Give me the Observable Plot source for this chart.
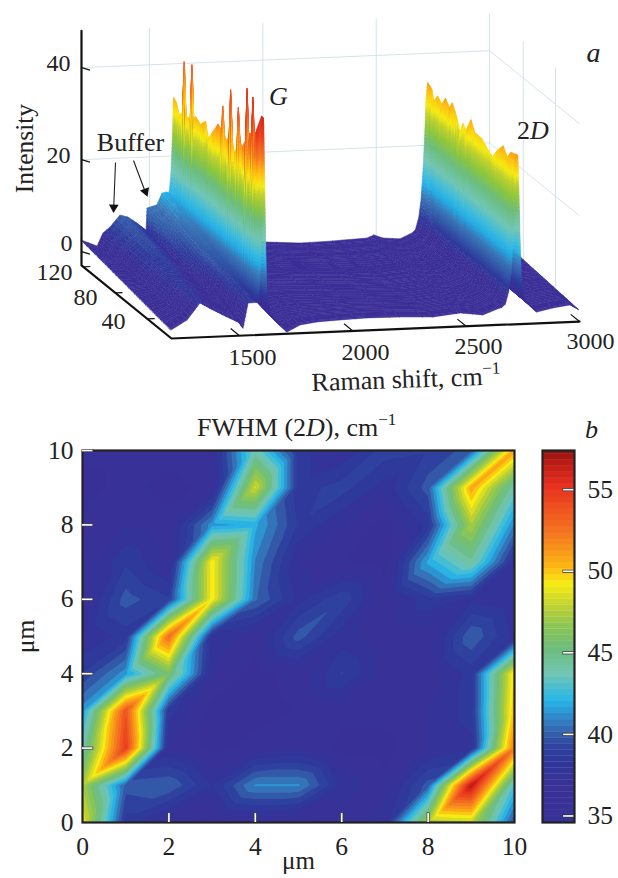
<!DOCTYPE html>
<html><head><meta charset="utf-8">
<script src="https://cdn.jsdelivr.net/npm/d3@7"></script>
<script src="https://cdn.jsdelivr.net/npm/@observablehq/plot@0.6"></script>
<style>
html,body{margin:0;padding:0;background:#fff}
#page{position:relative;width:618px;height:878px;overflow:hidden;font-family:"Liberation Serif",serif;color:#222}
#page svg{position:absolute;left:0;background:transparent}
.t{position:absolute;white-space:nowrap;line-height:1;font-size:26px}
.t sup{font-size:17px;line-height:0;vertical-align:baseline;position:relative;top:-11px}
</style></head><body><div id="page"></div>
<script>
// ---------- panel a: surface readings ----------
const frontShifts = [1200,1271,1328,1385,1447,1504,1518,1540,1606,1668,1712,1769,1844,1945,2065,2210,2356,2475,2576,2651,2686,2770,2814,2885,2960,3000];
const frontLevels = [-1.26,.77,4.35,2.7,1.06,-.37,-1.5,3.9,4,-.7,-2.74,-1.33,-.83,-.6,-.4,-.5,-.8,-.17,-.8,.57,.8,1.5,-.65,.1,.6,-.6];
const backShifts = [1200,1271,1297,1328,1372,1407,1447,1487,1491,1535,1557,1579,1650,1800,2016,2166,2311,2462,2492,2532,2607,2660,2750,3000];
const backLevels = [2.43,.98,3.76,5,7.5,7,5.6,4,8.8,9.4,11.9,12.1,4,2,.33,-.2,-.04,.28,.9,.15,-.2,.98,1.2,1.2];
const gSpectrum = [10,12.4,19.6,21.6,23.2,24.9,26.9,28.7,30.5,32.3,36.5,39.5,41.3,43.1,46.1,49.1,50.9,52.7,55.8,58.8,60.6,62.4,66.6,72.6,78.6,82.2,88.3,94.3,97.2,99.1,101,105.1,106.9,108.7,110.6,114.8,118.4,122];
const gHeight  = [44,44,39.5,37,46.6,38,38.3,36,47.5,36,33.8,35,41.8,33,31.1,34,44.3,34,32.5,33.5,39.4,34,34.6,32.2,29.8,33,31.5,32.3,31.5,42.9,31,30.7,31,42.2,31,29.7,32,32.6];
const dSpectrum = [10,11.2,18.5,23.4,28.3,35.6,41.6,48.9,55,63.5,68.4,74.5,78.2,81.8,85.5,91.5,95.2,100,104.9,109.8,114.7,117,122];
const dHeight  = [33.5,33.5,33,31.3,33,31,28.7,29.8,30.8,30.9,33,29.8,30.8,28.3,30.8,33.4,31.8,33.2,31.2,32.3,30.5,32.7,33.5];
const gCentre = 1608, dCentre = 2730;
const gOffsets = [-25,-18,-12,-8,-4,-2,0,2,5,8,11,14,18,25,30];
const gShape   = [0,.07,.25,.45,.7,.9,1,.95,.7,.45,.25,.12,.05,.01,0];
const dOffsets = [-70,-55,-40,-30,-22,-16,-12,-9,-5,-2,0,3,6,9,12,15,20,28,40,50];
const dShape   = [0,.02,.1,.22,.4,.58,.72,.87,.95,.99,1,.9,.7,.5,.33,.2,.1,.04,.01,0];
const shiftTicks = [1500,2000,2500,3000];
const spectrumTicks = [40,80,120];
const intensityTicks = [0,20,40];
const zStops  = [-3,3,5,7,9.5,12,14,17,21,24,27,29,32,35,40,45,48];
const zColors = ["#3b2e96","#3a2f96","#2f3a9c","#3358a8","#3a78b8","#25b0e6","#40bcdc","#73c6b5","#6cbd7d","#8cc63f","#c0d030","#f7ec13","#fdb813","#f57a20","#ea3d20","#d0201a","#7f0f0f"];

// ---------- panel b: FWHM on the 11 x 11 map, row by row from y = 0 ----------
const fwhmY0  = [49,38.5,37,36.5,37,36.5,37,38,47.5,48,39.5];
const fwhmY1  = [47.5,40,40.3,38.2,41.2,41.2,38,37,40,57,43];
const fwhmY2  = [44,55,37.5,36.5,37,37.5,36.5,36.5,37.5,38,52.5];
const fwhmY3  = [41.5,54,38.5,36.5,36.5,36.8,37,37,37.5,38.5,50.5];
const fwhmY4  = [39,41.5,46,37.5,36.5,37,39,37.2,37,38.5,50];
const fwhmY5  = [37.5,38.5,53,38,37,40,37.8,37,37,40.3,38];
const fwhmY6  = [37,40,39,49.5,40.5,38,39.5,37,38.7,38,37.5];
const fwhmY7  = [37,38.8,37.3,49.5,41,37.5,36.8,36.5,42,44.5,38];
const fwhmY8  = [37,37.5,37,41.5,42,38.8,37.5,36.5,38.5,47.5,41];
const fwhmY9  = [36.5,37,36.5,37,48.5,38.5,39.3,37.8,40,51,44];
const fwhmY10 = [37,37,37,37.5,44,38.5,37.5,39.3,39,40,51];
const fwhmStops  = [34.6,36.5,38,39,40,41,41.9,43.5,45,46.5,47.5,49,50,52,55,56.5,57.4];
const fwhmColors = ["#37329a","#3a3096","#2f359a","#2f429f","#3565ad","#2f8fcf","#28b7e8","#73c6b5","#6cbd7d","#8fc653","#b8cf35","#f7ec13","#fdb813","#f57a20","#e8301f","#b81a14","#7f0f0f"];
const mapTicks = [0,2,4,6,8,10];
const barTicks = [35,40,45,50,55];

const ink = "#222", serif = "Liberation Serif", gridInk = "#d6e3e9";
const page = document.getElementById("page");

// oblique view of the box (shift, spectrum number, intensity)
const project = (r,n,z) => [171 + .2267*(r-1200) - .8036*(n-10), 338 - .0094*(r-1200) - .652*(n-10) - 4.6*(z+3)];
const R0=1200,R1=3000,N0=10,N1=122,Z0=-3,Z1=48;
const seg = (a,b) => { const p=project(...a), q=project(...b); return {x1:p[0],y1:p[1],x2:q[0],y2:q[1]}; };

const front = d3.scaleLinear(frontShifts,frontLevels);
const back  = d3.scaleLinear(backShifts,backLevels);
const sorted = (ns,vs)=>{const o=d3.range(ns.length).sort((a,b)=>ns[a]-ns[b]);return d3.scaleLinear(o.map(i=>ns[i]),o.map(i=>vs[i]));};
const gRidge = sorted(gSpectrum,gHeight), dRidge = sorted(dSpectrum,dHeight);
const gFrac = d3.scaleLinear(gOffsets,gShape).clamp(true), dFrac = d3.scaleLinear(dOffsets,dShape).clamp(true);
const surf = (u,n) => {
  const t=(n-N0)/(N1-N0); let z=front(u)*(1-t)+back(u)*t;
  const g=gFrac(u-gCentre), d=dFrac(u-dCentre);
  z=z*(1-g)+gRidge(n)*g; z=z*(1-d)+dRidge(n)*d; return z;
};
const grid = Array.from(new Set([...frontShifts,...backShifts,...gOffsets.map(o=>o+gCentre),...dOffsets.map(o=>o+dCentre)])).sort((a,b)=>a-b);
const stations = Array.from(new Set([...gSpectrum,...dSpectrum])).sort((a,b)=>b-a);
const quads=[]; let qid=0;
for(let s=0;s<stations.length-1;s++){
  const na=stations[s], nb=stations[s+1];
  for(let i=0;i<grid.length-1;i++){
    const u0=grid[i],u1=grid[i+1];
    const a0=surf(u0,na),a1=surf(u1,na),b0=surf(u0,nb),b1=surf(u1,nb);
    const m=Math.max(1,Math.ceil(Math.max(Math.abs(a1-a0),Math.abs(b1-b0))/0.9));
    for(let k=0;k<m;k++){
      const f0=k/m,f1=(k+1)/m;
      const row=f=>{const ua=u0+(u1-u0)*f,za=a0+(a1-a0)*f,zb=b0+(b1-b0)*f;
        const p=project(ua,na,za),q=project(ua,nb,zb);return{x1:p[0],y1:p[1],x2:q[0],y2:q[1],mean:(za+zb)/2};};
      const r0=row(f0),r1=row(f1),level=(r0.mean+r1.mean)/2;
      qid++;
      quads.push({...r0,id:qid,level},{...r1,id:qid,level});
    }
  }
}
const wallShifts=[1500,2000,2500,3000], wallSpectra=[40,80];
const gridLines=[
  ...wallShifts.map(r=>seg([r,N1,Z0],[r,N1,Z1])),
  ...wallSpectra.map(n=>seg([R1,n,Z0],[R1,n,Z1])),
  ...[20,40].flatMap(z=>[seg([R0,N1,z],[R1,N1,z]),seg([R1,N1,z],[R1,N0,z])]),
];
const axisPath=[[R0,N1,Z1],[R0,N1,Z0],[R0,N0,Z0],[R1,N0,Z0]].map(c=>project(...c));
const tickSegs=[
  ...intensityTicks.map(z=>seg([R0,N1,z],[R0+30,N1-2,z-.3])),
  ...shiftTicks.map(r=>seg([r,N0,Z0],[r,N0+11,Z0])),
  ...spectrumTicks.map(n=>seg([R0,n,Z0],[R0+32,n,Z0])),
];
const labels3=[
  ...intensityTicks.map(z=>({v:String(z),x:z==0?66:58,y:z==0?243:z==20?155:63})),
  ...[[1500,252,357],[2000,365,352],[2500,478,346],[3000,590,341]].map(([v,x,y])=>({v:String(v),x,y})),
  {v:"120",x:54,y:272},{v:"80",x:85,y:297},{v:"40",x:113,y:321},
];
const arrows=[{x1:115,y1:162,x2:113.2,y2:208,hx:113.2,hy:207,turn:182},{x1:133,y1:160,x2:145,y2:192,hx:145,hy:191,turn:159}];

const a=Plot.plot({width:618,height:412,margin:0,
  x:{domain:[0,618],range:[0,618],axis:null},y:{domain:[0,412],range:[0,412],axis:null},
  color:{type:"linear",domain:zStops,range:zColors},style:{fontFamily:serif,background:"transparent"},
  marks:[
    Plot.link(gridLines,{x1:"x1",y1:"y1",x2:"x2",y2:"y2",stroke:gridInk,strokeWidth:1}),
    Plot.area(quads,{x1:"x1",y1:"y1",x2:"x2",y2:"y2",z:"id",fill:"level",stroke:"level",strokeWidth:.5,curve:"linear"}),
    Plot.line(axisPath,{x:d=>d[0],y:d=>d[1],stroke:"#111",strokeWidth:2.2,curve:"linear"}),
    Plot.link(tickSegs,{x1:"x1",y1:"y1",x2:"x2",y2:"y2",stroke:"#111",strokeWidth:1.2}),
    Plot.text(labels3,{x:"x",y:"y",text:"v",fontSize:24,fill:ink}),
    Plot.text(["Intensity"],{x:24,y:148,rotate:-90,fontSize:25.5,fill:ink}),
    Plot.text(["Buffer"],{x:130,y:142,fontSize:26,fill:ink}),
    Plot.link(arrows,{x1:"x1",y1:"y1",x2:"x2",y2:"y2",stroke:"#222",strokeWidth:1.1}),
    Plot.dot(arrows,{x:"hx",y:"hy",symbol:"triangle",r:3.6,rotate:"turn",fill:"#111",stroke:"none"}),
    Plot.text(["G"],{x:278,y:96,fontSize:26,fontStyle:"italic",fill:ink}),
    Plot.text(["a"],{x:593,y:53,fontSize:28,fontStyle:"italic",fill:ink}),
  ]});
a.style.top="0px"; page.appendChild(a);

// ---------- panel b ----------
const fwhmRows=[fwhmY0,fwhmY1,fwhmY2,fwhmY3,fwhmY4,fwhmY5,fwhmY6,fwhmY7,fwhmY8,fwhmY9,fwhmY10];
const fwhmAt=(x,y)=>{ // linear over the triangles of the map, as contourf draws
  const i=Math.max(0,Math.min(Math.floor(x),9)),j=Math.max(0,Math.min(Math.floor(y),9)),fx=x-i,fy=y-j;
  const p=fwhmRows[j][i],q=fwhmRows[j][i+1],r=fwhmRows[j+1][i],s=fwhmRows[j+1][i+1];
  return fx>=fy? p+(q-p)*fx+(s-q)*fy : p+(r-p)*fy+(s-r)*fx;
};
const levels=d3.range(34.6,57.4,.72);
const colorB={type:"linear",domain:fwhmStops,range:fwhmColors};
const b=Plot.plot({width:618,height:468,marginLeft:82,marginRight:104,marginTop:40,marginBottom:56,
  x:{domain:[0,10]},y:{domain:[0,10]},color:colorB,style:{fontFamily:serif,background:"transparent",color:ink},
  marks:[
    Plot.contour({fill:fwhmAt,x1:0,x2:10,y1:0,y2:10,pixelSize:1,thresholds:levels}),
    Plot.frame({stroke:"#222",strokeWidth:2.2}),
    Plot.ruleX(mapTicks.slice(1,5),{y1:0,y2:.26,stroke:"#444",strokeWidth:3}),
    Plot.ruleX(mapTicks.slice(1,5),{y1:0,y2:.24,stroke:"#fff",strokeWidth:1.6}),
    Plot.ruleY(mapTicks.slice(1),{x1:0,x2:.26,stroke:"#444",strokeWidth:3}),
    Plot.ruleY(mapTicks.slice(1),{x1:0,x2:.24,stroke:"#fff",strokeWidth:1.6}),
    Plot.axisX({ticks:mapTicks,tickSize:0,tickPadding:14,tickFormat:d=>d,fontSize:25.5,label:null,fill:ink}),
    Plot.axisY({ticks:mapTicks,tickSize:0,tickPadding:9,tickFormat:d=>d,fontSize:25.5,label:"μm",labelAnchor:"center",labelOffset:67,labelArrow:"none",fill:ink}),
    Plot.text(["μm"],{frameAnchor:"bottom",dy:46,fontSize:25,fill:ink}),
  ]});
b.style.top="410px"; page.appendChild(b);

const bandEdges=d3.range(34.6,57.4,.37);
const bands=bandEdges.map(lo=>({lo,hi:Math.min(lo+.39,57.4)}));
const bar=Plot.plot({width:618,height:468,marginLeft:542,marginRight:44,marginTop:40,marginBottom:56,
  x:{domain:[0,1],axis:null},y:{domain:[34.6,57.4]},color:colorB,style:{fontFamily:serif,background:"transparent",color:ink},
  marks:[
    Plot.rect(bands,{x1:0,x2:1,y1:"lo",y2:"hi",fill:"lo"}),
    Plot.frame({stroke:"#222",strokeWidth:2.2}),
    Plot.ruleY(barTicks,{x1:.64,x2:1,stroke:"#333",strokeWidth:3}),
    Plot.ruleY(barTicks,{x1:.66,x2:.98,stroke:"#fff",strokeWidth:1.6}),
    Plot.axisY({anchor:"right",ticks:barTicks,tickSize:0,tickPadding:13,tickFormat:d=>d,fontSize:25.5,label:null,fill:ink}),
  ]});
bar.style.top="410px"; page.appendChild(bar);

// ---------- text with mixed styles ----------
const addText=(html,left,top,extra)=>{const d=document.createElement("div");d.className="t";d.innerHTML=html;d.style.left=left+"px";d.style.top=top+"px";if(extra)Object.assign(d.style,extra);page.appendChild(d);};
addText("2<i>D</i>",517,118);
addText("Raman shift, cm<sup>−1</sup>",312,370,{transform:"rotate(-2deg)",transformOrigin:"left bottom"});
addText("FWHM (2<i>D</i>), cm<sup>−1</sup>",197,415);
addText("<i>b</i>",585,417,{fontSize:28});
</script></body></html>
